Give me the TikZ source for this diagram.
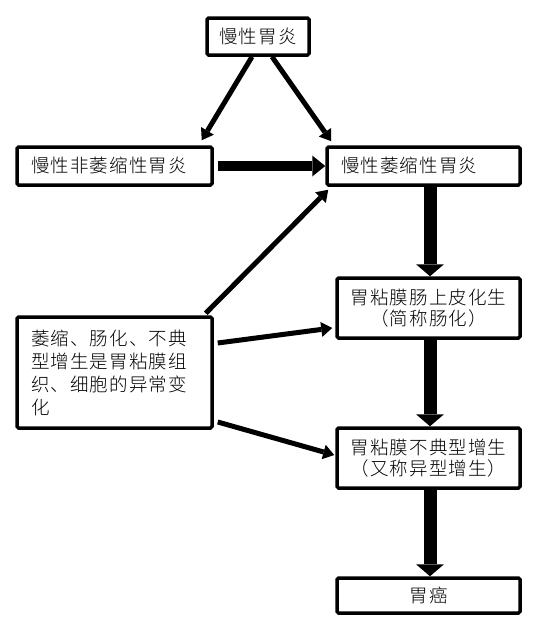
\documentclass[tikz,border=0pt]{standalone}
\usepackage{fontspec}
\setmainfont{Noto Sans CJK SC Light}[LetterSpace=6]
\usetikzlibrary{arrows.meta}

\begin{document}
\begin{tikzpicture}[x=1pt,y=-1pt,line join=miter,
  font=\fontsize{18.5}{23}\selectfont,
  box/.style={draw,line width=3.5pt,rounded corners=1.5pt,inner sep=0pt,minimum height=38pt},
  leftbox/.style={box,align=left,inner xsep=14pt},
  thinarrow/.style={line width=5pt,-{Triangle[length=11pt,width=15pt,line width=0pt]}},
  bararrow/.style={line width=10pt,-{Triangle[length=13pt,width=21pt,line width=0pt]}},
  fatarrow/.style={line width=13pt,-{Triangle[length=12pt,width=28pt,line width=0pt]}}]
  \useasboundingbox (0,0) rectangle (545,632);
  % boxes
  \node[box,minimum width=102pt,minimum height=37pt] (gastritis) at (258,36.5) {慢性胃炎};
  \node[leftbox,text width=167pt] (nonatrophic) at (114.5,166) {慢性非萎缩性胃炎};
  \node[leftbox,text width=165pt] (atrophic) at (423.5,166) {慢性萎缩性胃炎};
  \node[box,minimum width=183pt,minimum height=60pt,align=center,
    font=\fontsize{18.5}{20.5}\selectfont] (metaplasia) at (428.5,308)
    {胃粘膜肠上皮化生\\（简称肠化）};
  \node[box,minimum width=183pt,minimum height=60pt,align=center,
    font=\fontsize{18.5}{20.5}\selectfont] (dysplasia) at (428.5,458)
    {胃粘膜不典型增生\\（又称异型增生）};
  \node[box,minimum width=183pt,minimum height=35pt] (cancer) at (428.5,595.5) {胃癌};
  \node[leftbox,text width=167pt,minimum height=111pt] (note) at (114.5,372.5)
    {萎缩、肠化、不典\\型增生是胃粘膜组\\织、细胞的异常变\\化};
  % arrows
  \draw[thinarrow] ([xshift=-6pt]gastritis.south) -- ([xshift=-12pt,yshift=5pt]nonatrophic.north east);
  \draw[thinarrow] ([xshift=14pt]gastritis.south) -- ([xshift=6pt,yshift=4pt]atrophic.north west);
  \draw[bararrow,shorten <=4pt] (nonatrophic) -- (atrophic);
  \draw[fatarrow] ([xshift=1.5pt]atrophic.south -| metaplasia.north) -- ([xshift=1.5pt]metaplasia.north);
  \draw[fatarrow] ([xshift=1.5pt]metaplasia.south) -- ([xshift=1.5pt]dysplasia.north);
  \draw[fatarrow] ([xshift=1.5pt]dysplasia.south) -- ([xshift=1.5pt]cancer.north);
  \draw[thinarrow] ([xshift=-8pt,yshift=2pt]note.north east) -- ([xshift=3pt,yshift=-3pt]atrophic.south west);
  \draw[thinarrow] ([xshift=4pt,yshift=29.5pt]note.east) -- ([xshift=-3pt,yshift=-20pt]metaplasia.west);
  \draw[thinarrow] ([xshift=4pt,yshift=-49.5pt]note.east) -- ([xshift=-1pt,yshift=3pt]dysplasia.west);
\end{tikzpicture}
\end{document}
